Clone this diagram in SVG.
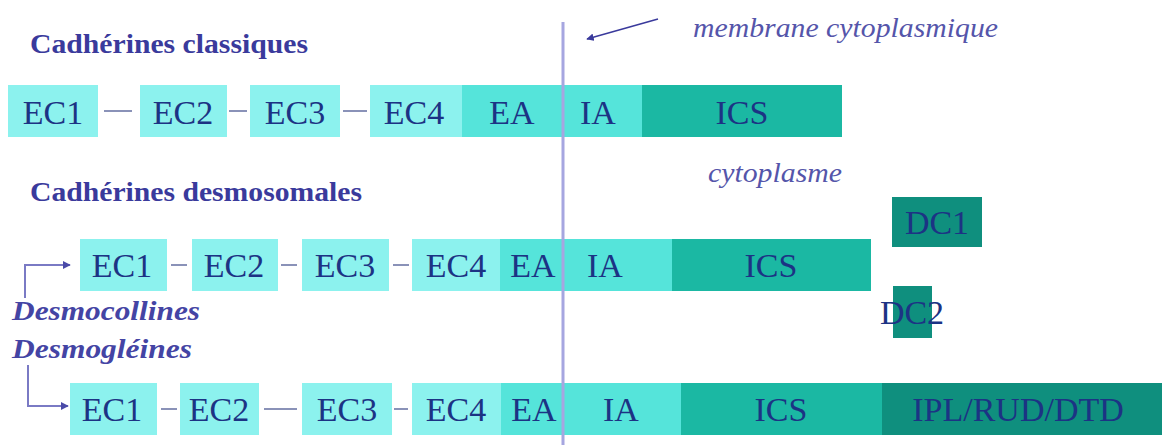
<svg xmlns="http://www.w3.org/2000/svg" width="1162" height="445" viewBox="0 0 1162 445">
<style>
  .ec { fill: #8cf2ee; }
  .ea { fill: #55e4da; }
  .ics { fill: #1bb8a3; }
  .dk { fill: #0f8f7e; }
  .bt { font-family: "Liberation Serif", "Times New Roman", serif; font-size: 34px; fill: #1c3384; text-anchor: middle; }
  .title { font-family: "Liberation Serif", "Times New Roman", serif; font-size: 28px; font-weight: bold; fill: #3a3a9c; }
  .lab { font-family: "Liberation Serif", "Times New Roman", serif; font-size: 28px; font-style: italic; fill: #5555aa; }
  .blab { font-family: "Liberation Serif", "Times New Roman", serif; font-size: 28px; font-style: italic; font-weight: bold; fill: #4444a4; }
  .dash { stroke: #8a92b8; stroke-width: 2; fill: none; }
  .conn { stroke: #7a7ac4; stroke-width: 2; fill: none; }
</style>
<defs>
  <marker id="ah" viewBox="0 0 10 10" refX="9" refY="5" markerWidth="4" markerHeight="4" orient="auto">
    <path d="M0,0 L10,5 L0,10 z" fill="#4a4aa8"/>
  </marker>
  <marker id="ah2" viewBox="0 0 10 10" refX="9" refY="5" markerWidth="5" markerHeight="5" orient="auto">
    <path d="M0,0 L10,5 L0,10 z" fill="#3a3a9c"/>
  </marker>
</defs>
<rect width="1162" height="445" fill="#ffffff"/>

<!-- labels -->
<text class="title" x="30" y="53" textLength="278" lengthAdjust="spacingAndGlyphs">Cadhérines classiques</text>
<text class="title" x="30" y="201" textLength="332" lengthAdjust="spacingAndGlyphs">Cadhérines desmosomales</text>
<text class="lab" x="693" y="37" textLength="305" lengthAdjust="spacingAndGlyphs">membrane cytoplasmique</text>
<text class="lab" x="708" y="182" textLength="134" lengthAdjust="spacingAndGlyphs">cytoplasme</text>
<text class="blab" x="12" y="320" textLength="188" lengthAdjust="spacingAndGlyphs">Desmocollines</text>
<text class="blab" x="12" y="358" textLength="180" lengthAdjust="spacingAndGlyphs">Desmogléines</text>

<!-- Row 1: classical cadherins -->
<g id="r1-ec1"><rect class="ec" x="8" y="85" width="90" height="52"/><text class="bt" x="53" y="124">EC1</text></g>
<g id="r1-ec2"><rect class="ec" x="140" y="85" width="87" height="52"/><text class="bt" x="183" y="124">EC2</text></g>
<g id="r1-ec3"><rect class="ec" x="250" y="85" width="90" height="52"/><text class="bt" x="295" y="124">EC3</text></g>
<g id="r1-ec4"><rect class="ec" x="370" y="85" width="92" height="52"/><text class="bt" x="414" y="124">EC4</text></g>
<g id="r1-ea"><rect class="ea" x="462" y="85" width="102" height="52"/><text class="bt" x="512" y="124">EA</text></g>
<g id="r1-ia"><rect class="ea" x="563" y="85" width="79" height="52"/><text class="bt" x="598" y="124">IA</text></g>
<g id="r1-ics"><rect class="ics" x="642" y="85" width="200" height="52"/><text class="bt" x="742" y="124">ICS</text></g>

<!-- Row 2: desmosomal cadherins -->
<g id="r2-ec1"><rect class="ec" x="80" y="239" width="87" height="52"/><text class="bt" x="122" y="277">EC1</text></g>
<g id="r2-ec2"><rect class="ec" x="192" y="239" width="86" height="52"/><text class="bt" x="234" y="277">EC2</text></g>
<g id="r2-ec3"><rect class="ec" x="302" y="239" width="87" height="52"/><text class="bt" x="345" y="277">EC3</text></g>
<g id="r2-ec4"><rect class="ec" x="412" y="239" width="89" height="52"/><text class="bt" x="456" y="277">EC4</text></g>
<g id="r2-ea"><rect class="ea" x="500" y="239" width="64" height="52"/><text class="bt" x="533" y="277">EA</text></g>
<g id="r2-ia"><rect class="ea" x="563" y="239" width="109" height="52"/><text class="bt" x="605" y="277">IA</text></g>
<g id="r2-ics"><rect class="ics" x="672" y="239" width="199" height="52"/><text class="bt" x="771" y="277">ICS</text></g>
<g id="dc1"><rect class="dk" x="892" y="197" width="90" height="50"/><text class="bt" x="937" y="234">DC1</text></g>
<g id="dc2"><rect class="dk" x="893" y="286" width="39" height="52"/><text class="bt" x="912" y="324">DC2</text></g>

<!-- Row 3 -->
<g id="r3-ec1"><rect class="ec" x="70" y="383" width="87" height="52"/><text class="bt" x="112" y="421">EC1</text></g>
<g id="r3-ec2"><rect class="ec" x="180" y="383" width="79" height="52"/><text class="bt" x="219" y="421">EC2</text></g>
<g id="r3-ec3"><rect class="ec" x="302" y="383" width="90" height="52"/><text class="bt" x="347" y="421">EC3</text></g>
<g id="r3-ec4"><rect class="ec" x="412" y="383" width="89" height="52"/><text class="bt" x="456" y="421">EC4</text></g>
<g id="r3-ea"><rect class="ea" x="501" y="383" width="63" height="52"/><text class="bt" x="534" y="421">EA</text></g>
<g id="r3-ia"><rect class="ea" x="563" y="383" width="118" height="52"/><text class="bt" x="621" y="421">IA</text></g>
<g id="r3-ics"><rect class="ics" x="681" y="383" width="201" height="52"/><text class="bt" x="781" y="421">ICS</text></g>
<g id="r3-ipl"><rect class="dk" x="882" y="383" width="280" height="52"/><text class="bt" x="1018" y="421">IPL/RUD/DTD</text></g>

<!-- membrane -->
<g id="membrane"><line x1="563" y1="22" x2="563" y2="445" stroke="#a6a6e0" stroke-width="3"/></g>

<!-- connectors -->
<g id="connectors">
  <line class="dash" x1="104" y1="111" x2="132" y2="111"/>
  <line class="dash" x1="229" y1="111" x2="247" y2="111"/>
  <line class="dash" x1="343" y1="111" x2="367" y2="111"/>
  <line class="dash" x1="171" y1="265" x2="187" y2="265"/>
  <line class="dash" x1="281" y1="265" x2="297" y2="265"/>
  <line class="dash" x1="393" y1="265" x2="409" y2="265"/>
  <line class="dash" x1="161" y1="409" x2="177" y2="409"/>
  <line class="dash" x1="264" y1="409" x2="297" y2="409"/>
  <line class="dash" x1="394" y1="409" x2="408" y2="409"/>
  <polyline class="conn" points="25,298 25,265 70,265" marker-end="url(#ah)"/>
  <polyline class="conn" points="28,365 28,406 68,406" marker-end="url(#ah)"/>
  <line x1="658" y1="19" x2="587" y2="39" stroke="#3a3a9c" stroke-width="1.5" marker-end="url(#ah2)"/>
</g>
</svg>
